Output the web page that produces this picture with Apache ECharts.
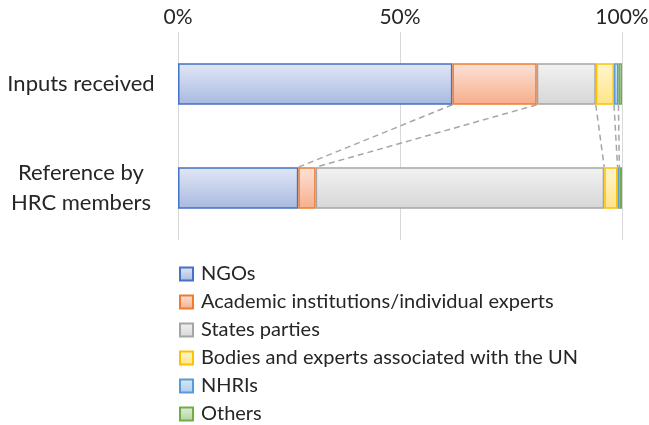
<!DOCTYPE html>
<html><head><meta charset="utf-8">
<script src="https://cdn.jsdelivr.net/npm/echarts@6/dist/echarts.min.js"></script>
<style>html,body{margin:0;padding:0;background:#fff}#c{width:649px;height:425px}</style>
</head><body><div id="c"></div>
<script>
var categories = ['Inputs received', 'Reference by\nHRC members'];
var seriesNames = ['NGOs', 'Academic institutions/individual experts', 'States parties', 'Bodies and experts associated with the UN', 'NHRIs', 'Others'];
var ngos = [61.8, 27.1];
var academic = [19.0, 3.9];
var states = [13.3, 65.0];
var bodies = [4.1, 3.0];
var nhris = [1.0, 0.4];
var others = [0.8, 0.6];
var xTicks = [0, 50, 100];

var values = [ngos, academic, states, bodies, nhris, others];
var borderColors = ['#4472c4', '#ed7d31', '#a5a5a5', '#ffc000', '#5b9bd5', '#70ad47'];
var topColors = ['#e1e7f5', '#fde2d7', '#f3f3f3', '#fff6cf', '#dbe9f7', '#dfeed7'];
var botColors = ['#a8b9e0', '#f6ae8b', '#d6d6d6', '#ffe486', '#a9ccec', '#b1d59e'];
var FONT = 'Lato';

function grad(i){
  return {type:'linear', x:0, y:0, x2:0, y2:1, colorStops:[{offset:0,color:topColors[i]},{offset:1,color:botColors[i]}]};
}

var cumA = [], cumB = [], a = 0, b = 0;
for (var i = 0; i < values.length - 1; i++) {
  a += values[i][0]; b += values[i][1];
  cumA.push(a); cumB.push(b);
}
var connData = cumA.map(function(v, k){ return [v, cumB[k]]; });

var series = seriesNames.map(function(n, i){
  return {
    name: n, type: 'bar', stack: 'total', barWidth: '40%',
    data: values[i],
    itemStyle: { color: grad(i), borderColor: borderColors[i], borderWidth: 1.5 },
    emphasis: { disabled: true }
  };
});
series.push({
  type: 'custom', name: 'conn', silent: true, z: 1,
  encode: { x: [0, 1] },
  data: connData,
  renderItem: function(params, api){
    var p0 = api.coord([api.value(0), 0]);
    var p1 = api.coord([api.value(1), 1]);
    var h = api.size([0, 1])[1] * 0.4 / 2;
    return {
      type: 'line',
      shape: { x1: p0[0], y1: p0[1] + h, x2: p1[0], y2: p1[1] - h },
      style: { stroke: '#a6a6a6', lineWidth: 1.5, lineDash: [6, 4] }
    };
  }
});

var chart = echarts.init(document.getElementById('c'), null, {renderer: 'canvas'});
chart.setOption({
  animation: false,
  textStyle: { fontFamily: FONT },
  grid: { left: 178, right: 27, top: 32, bottom: 185, containLabel: false, outerBoundsMode: 'none' },
  xAxis: {
    type: 'value', position: 'top', min: 0, max: 100, interval: 50,
    axisLine: { show: false }, axisTick: { show: false },
    splitLine: { lineStyle: { color: '#d9d9d9', width: 1 } },
    axisLabel: { formatter: function(v){ return v + '%'; }, fontSize: 21, color: '#262626', margin: 4, fontFamily: FONT,
      customValues: xTicks }
  },
  yAxis: {
    type: 'category', inverse: true, data: categories,
    axisLine: { show: false }, axisTick: { show: false },
    axisLabel: { fontSize: 22, color: '#262626', align: 'center', margin: 97, lineHeight: 30, fontFamily: FONT }
  },
  legend: {
    data: seriesNames, orient: 'vertical', left: 179, top: 264, height: 170, padding: 0,
    itemWidth: 13, itemHeight: 13, itemGap: 8, icon: 'rect',
    textStyle: { fontSize: 20, color: '#262626', fontFamily: FONT, lineHeight: 20, padding: [0,0,0,3] },
    selectedMode: false
  },
  series: series
});
</script></body></html>
